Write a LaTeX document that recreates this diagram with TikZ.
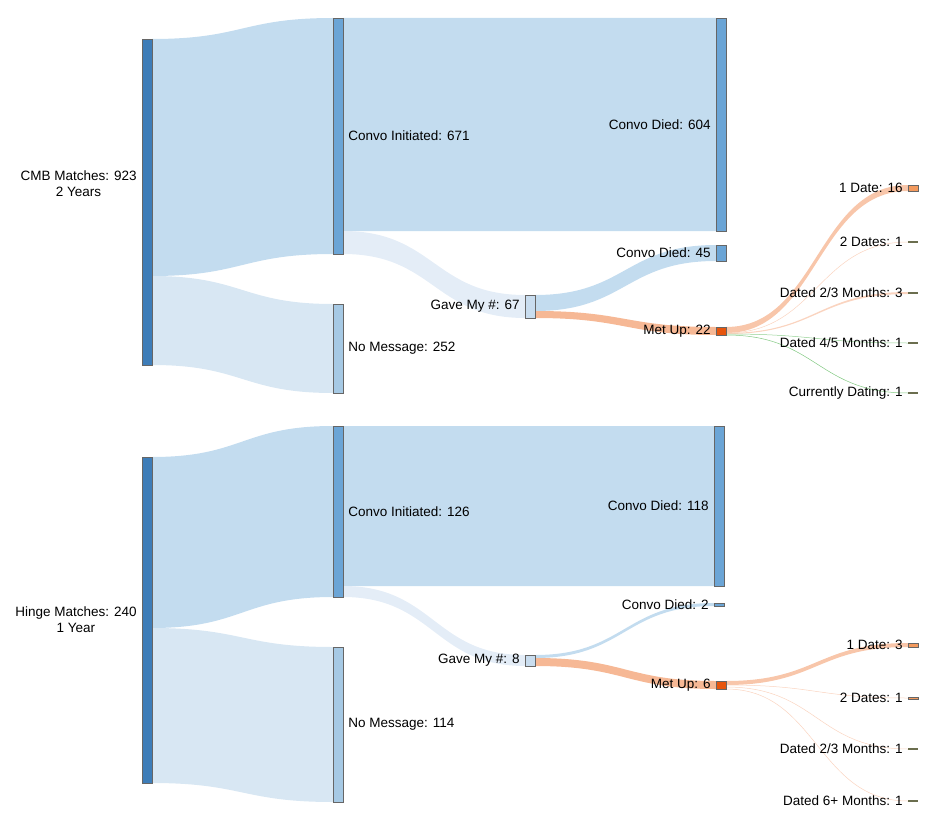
\documentclass[tikz,border=0pt]{standalone}
\usepackage{fontspec}
\setmainfont{Liberation Sans}
\usepackage{tikz}

\definecolor{dkblue}{HTML}{3E7DB8}
\definecolor{mdblue}{HTML}{6BA5D6}
\definecolor{ltblue}{HTML}{A6C9E4}
\definecolor{pale}{HTML}{C9DDEF}
\definecolor{orng}{HTML}{E6550D}
\definecolor{lorng}{HTML}{F39A5E}
\definecolor{olive}{HTML}{6B6E4E}
\definecolor{lkblue}{HTML}{C3DCEF}
\definecolor{lkpale}{HTML}{D8E7F3}
\definecolor{lkfaint}{HTML}{E4EDF7}
\definecolor{lkorng}{HTML}{F6B895}

\tikzset{
  bar/.style={draw=black!60, line width=0.4pt, minimum width=10pt, inner sep=0pt, fill=#1},
  lbl/.style={font=\fontsize{13.5}{16}\selectfont, inner sep=5pt}
}
% band between two bars
\newcommand{\flow}[7]{%
  \fill[#7] (#1,#2) .. controls ({(#1+#4)/2},#2) and ({(#1+#4)/2},#5) .. (#4,#5)
    -- (#4,#6) .. controls ({(#1+#4)/2},#6) and ({(#1+#4)/2},#3) .. (#1,#3) -- cycle;}
\newcommand{\thinflow}[4]{%
  \draw[lkorng!60, line width=0.5pt] (#1,#2) .. controls ({(#1+#3)/2},#2) and ({(#1+#3)/2},#4) .. (#3,#4);}

\begin{document}
\begin{tikzpicture}[x=1pt,y=-1pt]
    \useasboundingbox (0,0) rectangle (936,821);

    % CMB flows
    \flow{152}{39}{276}{333}{18}{254}{lkblue}
    \flow{152}{276}{365}{333}{304}{393}{lkpale}
    \flow{343}{18}{231}{716}{18}{231}{lkblue}
    \flow{343}{231}{254}{525}{295}{318}{lkfaint}
    \flow{535}{295}{311}{716}{245}{261}{lkblue}
    \flow{535}{311}{318}{716}{327}{335}{lkorng}
    \flow{726}{327}{333}{908}{185}{191}{lkorng!80}
    \thinflow{726}{333}{908}{242}
    \flow{726}{333}{334}{908}{292}{294}{lkorng!60}
    \draw[green!40!gray!60, line width=0.5pt] (726,334) .. controls (817,334) and (817,343) .. (908,343);
    \draw[green!40!gray!70, line width=0.5pt] (726,335) .. controls (817,335) and (817,393) .. (908,393);

    % Hinge flows
    \flow{152}{457}{628}{333}{426}{597}{lkblue}
    \flow{152}{628}{783}{333}{647}{802}{lkpale}
    \flow{343}{426}{586}{714}{426}{586}{lkblue}
    \flow{343}{586}{597}{525}{655}{666}{lkfaint}
    \flow{535}{655}{658}{714}{603}{606}{lkblue}
    \flow{535}{658}{666}{716}{681}{689}{lkorng}
    \flow{726}{681}{685}{908}{643}{647}{lkorng!80}
    \thinflow{726}{685}{908}{698}
    \thinflow{726}{687}{908}{749}
    \thinflow{726}{689}{908}{801}

    % CMB bars
    \node[bar=dkblue, minimum height=326pt] (cmb) at (147,202) {};
    \node[bar=mdblue, minimum height=236pt] (ci1) at (338,136) {};
    \node[bar=ltblue, minimum height=89pt] (nm1) at (338,348.5) {};
    \node[bar=mdblue, minimum height=213pt] (cd1) at (721,124.5) {};
    \node[bar=mdblue, minimum height=16pt] (cdb1) at (721,253) {};
    \node[bar=pale, minimum height=23pt] (gm1) at (530,306.5) {};
    \node[bar=orng, minimum height=8pt] (mu1) at (721,331) {};
    \node[bar=lorng, minimum height=6pt] (d1a) at (913,188) {};
    \node[bar=olive, draw=none, minimum height=1.2pt] (d2a) at (913,242) {};
    \node[bar=olive, draw=none, minimum height=2pt] (d3a) at (913,293) {};
    \node[bar=olive, draw=none, minimum height=1.2pt] (d4a) at (913,343) {};
    \node[bar=olive, draw=none, minimum height=1.2pt] (d5a) at (913,393) {};

    % Hinge bars
    \node[bar=dkblue, minimum height=326pt] (hin) at (147,620) {};
    \node[bar=mdblue, minimum height=171pt] (ci2) at (338,511.5) {};
    \node[bar=ltblue, minimum height=155pt] (nm2) at (338,724.5) {};
    \node[bar=mdblue, minimum height=160pt] (cd2) at (719,506) {};
    \node[bar=mdblue, minimum height=3pt] (cdb2) at (719,604.5) {};
    \node[bar=pale, minimum height=11pt] (gm2) at (530,660.5) {};
    \node[bar=orng, minimum height=8pt] (mu2) at (721,685) {};
    \node[bar=lorng, minimum height=4pt] (d1b) at (913,645) {};
    \node[bar=lorng, minimum height=1.5pt] (d2b) at (913,698) {};
    \node[bar=olive, draw=none, minimum height=1.2pt] (d3b) at (913,749) {};
    \node[bar=olive, draw=none, minimum height=1.2pt] (d4b) at (913,801) {};

    % labels
    \node[lbl, left, align=center, yshift=18pt] at (cmb.west) {CMB Matches: 923\\2 Years};
    \node[lbl, right] at (ci1.east) {Convo Initiated: 671};
    \node[lbl, right] at (nm1.east) {No Message: 252};
    \node[lbl, left] at (cd1.west) {Convo Died: 604};
    \node[lbl, left] at (cdb1.west) {Convo Died: 45};
    \node[lbl, left] at (gm1.west) {Gave My \#: 67};
    \node[lbl, left] at (mu1.west) {Met Up: 22};
    \node[lbl, left] at (d1a.west) {1 Date: 16};
    \node[lbl, left] at (d2a.west) {2 Dates: 1};
    \node[lbl, left] at (d3a.west) {Dated 2/3 Months: 3};
    \node[lbl, left] at (d4a.west) {Dated 4/5 Months: 1};
    \node[lbl, left] at (d5a.west) {Currently Dating: 1};

    \node[lbl, left, align=center] at (hin.west) {Hinge Matches: 240\\1 Year};
    \node[lbl, right] at (ci2.east) {Convo Initiated: 126};
    \node[lbl, right] at (nm2.east) {No Message: 114};
    \node[lbl, left] at (cd2.west) {Convo Died: 118};
    \node[lbl, left] at (cdb2.west) {Convo Died: 2};
    \node[lbl, left] at (gm2.west) {Gave My \#: 8};
    \node[lbl, left] at (mu2.west) {Met Up: 6};
    \node[lbl, left] at (d1b.west) {1 Date: 3};
    \node[lbl, left] at (d2b.west) {2 Dates: 1};
    \node[lbl, left] at (d3b.west) {Dated 2/3 Months: 1};
    \node[lbl, left] at (d4b.west) {Dated 6+ Months: 1};
\end{tikzpicture}
\end{document}
